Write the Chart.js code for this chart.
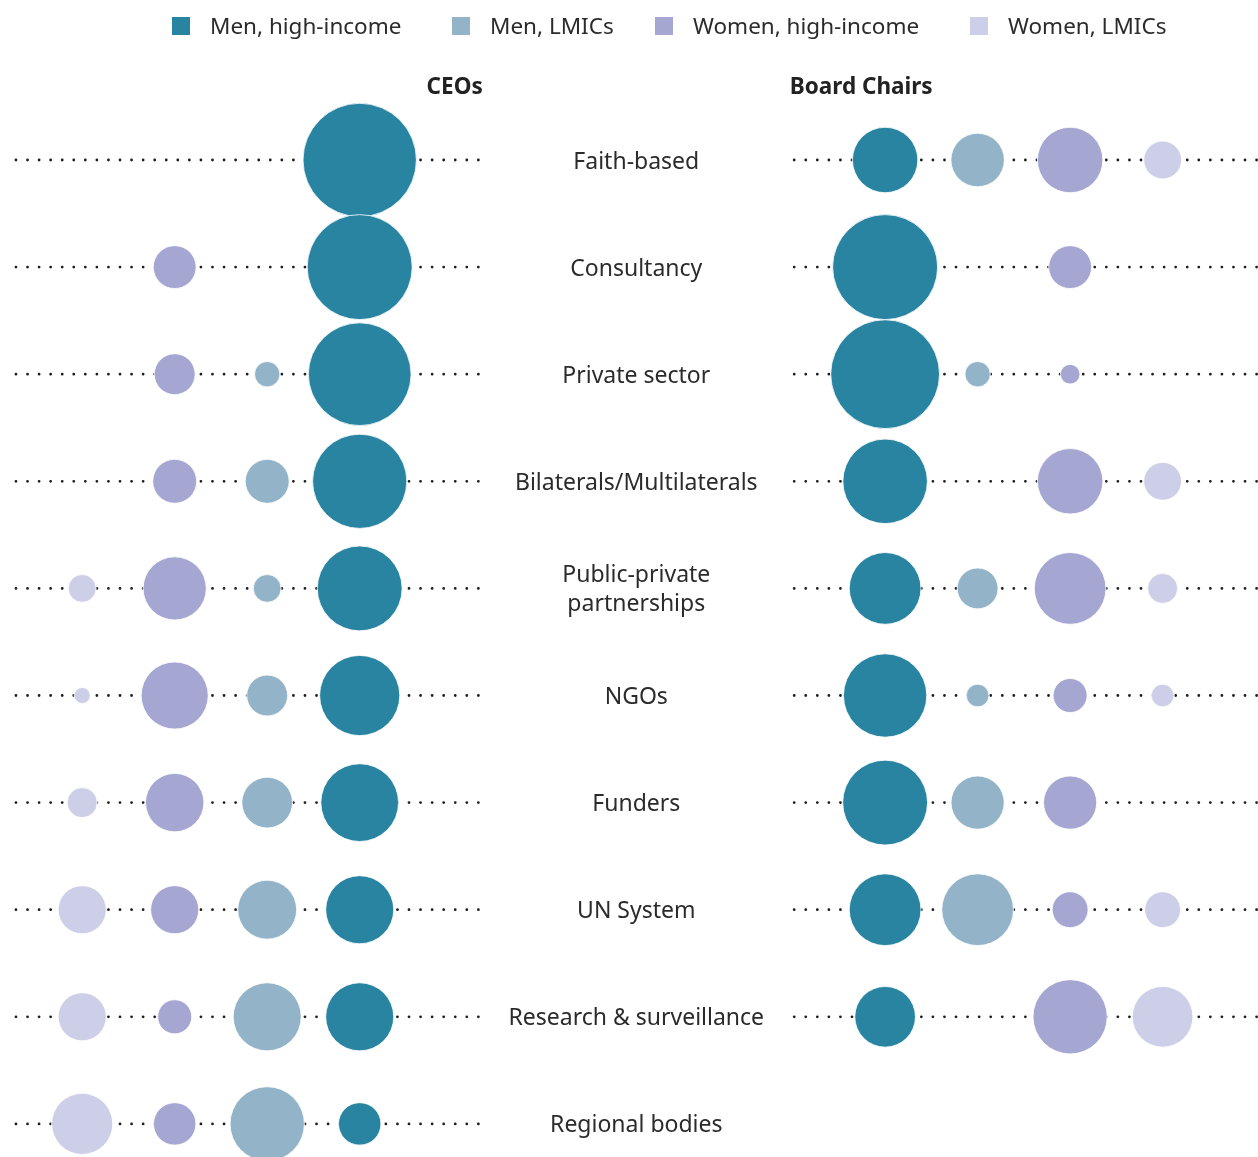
<!DOCTYPE html>
<html>
<head>
<meta charset="utf-8">
<script src="https://cdn.jsdelivr.net/npm/chart.js@4/dist/chart.umd.min.js"></script>
<style>
  html, body { margin: 0; padding: 0; background: #fff; }
  #wrap { position: relative; width: 1258px; height: 1157px; }
</style>
</head>
<body>
<div id="wrap"><canvas id="leaders"></canvas></div>
<script>
var categories = ['Faith-based', 'Consultancy', 'Private sector', 'Bilaterals/Multilaterals',
  ['Public-private', 'partnerships'], 'NGOs', 'Funders', 'UN System',
  'Research & surveillance', 'Regional bodies'];

var groups = ['Men, high-income', 'Men, LMICs', 'Women, high-income', 'Women, LMICs'];
var colors = ['#2984a2', '#93b4c8', '#a5a6d2', '#cdcee8'];

// share of organisations (%) per leader group, one value per category
var ceoMenHigh    = [100, 85.7, 82, 69, 56, 50, 47, 36, 36, 14];
var ceoMenLow     = [0, 0, 5, 15, 6, 13, 20, 27, 36, 43];
var ceoWomenHigh  = [0, 14.3, 13, 15, 31, 35, 26.5, 18, 9, 14];
var ceoWomenLow   = [0, 0, 0, 0, 6, 2, 7, 18, 18, 29];

var boardMenHigh   = [33.3, 85.7, 92, 55.6, 40, 54, 56, 40, 28.6, null];
var boardMenLow    = [22.2, 0, 5, 0, 13, 4, 22, 40, 0, null];
var boardWomenHigh = [33.3, 14.3, 3, 33.3, 40, 9, 22, 10, 42.9, null];
var boardWomenLow  = [11.1, 0, 0, 11.1, 7, 4, 0, 10, 28.6, null];

// column slots on the x scale (CEOs on the left, board chairs on the right)
var ceoCols = [3, 2, 1, 0];
var boardCols = [8.68, 9.68, 10.68, 11.68];

var FONT = '"Noto Sans", "Open Sans", sans-serif';

// bubble area is proportional to the share
function radius(v) { return 5.67 * Math.sqrt(v); }

function points(values, col) {
  var out = [];
  values.forEach(function (v, i) {
    if (v) out.push({ x: col, y: i, r: radius(v), v: v });
  });
  return out;
}

var ceoSeries = [ceoMenHigh, ceoMenLow, ceoWomenHigh, ceoWomenLow];
var boardSeries = [boardMenHigh, boardMenLow, boardWomenHigh, boardWomenLow];

var datasets = groups.map(function (g, k) {
  return {
    label: g,
    data: points(ceoSeries[k], ceoCols[k]).concat(points(boardSeries[k], boardCols[k])),
    backgroundColor: colors[k],
    borderColor: 'rgba(255,255,255,0.8)',
    borderWidth: 1,
    hoverRadius: 0,
    clip: false
  };
});

function dots(ctx, x0, x1, y) {
  ctx.beginPath();
  ctx.moveTo(x0, y);
  ctx.lineTo(x1, y);
  ctx.stroke();
}

var rowLines = {
  id: 'rowLines',
  beforeDatasetsDraw: function (chart) {
    var ctx = chart.ctx, xs = chart.scales.x, ys = chart.scales.y;
    ctx.save();
    ctx.strokeStyle = '#1e1e1e';
    ctx.lineWidth = 2.8;
    ctx.lineCap = 'round';
    ctx.setLineDash([0, 11.56]);
    categories.forEach(function (c, i) {
      var py = ys.getPixelForValue(i);
      dots(ctx, xs.getPixelForValue(-0.716), xs.getPixelForValue(4.31), py);
      if (boardMenHigh[i] != null) {
        dots(ctx, xs.getPixelForValue(7.697), xs.getPixelForValue(12.7), py);
      }
    });
    ctx.restore();
  }
};

var textLayer = {
  id: 'textLayer',
  afterDraw: function (chart) {
    var ctx = chart.ctx, xs = chart.scales.x, ys = chart.scales.y;
    ctx.save();
    ctx.textBaseline = 'middle';

    // category names between the two panels
    ctx.fillStyle = '#2b2b2b';
    ctx.font = '23px ' + FONT;
    ctx.textAlign = 'center';
    var cx = xs.getPixelForValue(5.99);
    categories.forEach(function (c, i) {
      var py = ys.getPixelForValue(i) + 2;
      if (Array.isArray(c)) {
        ctx.fillText(c[0], cx, py - 14.5);
        ctx.fillText(c[1], cx, py + 14.5);
      } else {
        ctx.fillText(c, cx, py);
      }
    });

    // panel titles
    ctx.fillStyle = '#222';
    ctx.font = 'bold 22.5px ' + FONT;
    ctx.textAlign = 'right';
    ctx.fillText('CEOs', xs.getPixelForValue(4.33), 88);
    ctx.textAlign = 'left';
    ctx.fillText('Board Chairs', xs.getPixelForValue(7.65), 88);

    // legend
    var boxX = [172, 452, 655, 970];
    ctx.font = '22.5px ' + FONT;
    groups.forEach(function (g, k) {
      ctx.fillStyle = colors[k];
      ctx.fillRect(boxX[k], 17, 18, 18);
      ctx.fillStyle = '#2b2b2b';
      ctx.fillText(g, boxX[k] + 38, 28);
    });
    ctx.restore();
  }
};

new Chart(document.getElementById('leaders'), {
  type: 'bubble',
  data: { datasets: datasets },
  options: {
    responsive: true,
    maintainAspectRatio: false,
    animation: false,
    layout: { padding: 0, autoPadding: false },
    scales: {
      x: { type: 'linear', display: false, min: -0.8886, max: 12.711 },
      y: { type: 'linear', display: false, reverse: true, min: -1.494, max: 9.309 }
    },
    plugins: {
      legend: { display: false },
      tooltip: { enabled: false }
    }
  },
  plugins: [rowLines, textLayer]
});
</script>
</body>
</html>
